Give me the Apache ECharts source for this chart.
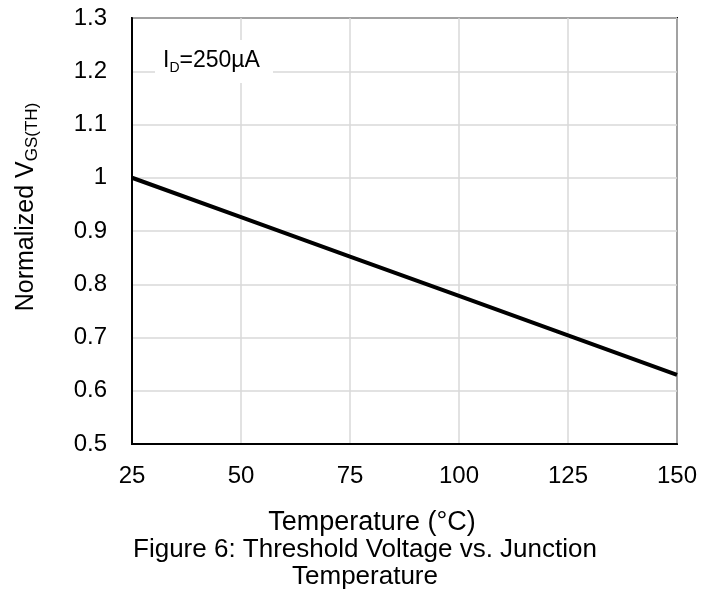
<!DOCTYPE html>
<html>
<head>
<meta charset="utf-8">
<script src="https://cdn.jsdelivr.net/npm/echarts@6/dist/echarts.min.js"></script>
<style>
  html, body { margin: 0; padding: 0; background: #fff; }
  #chart { width: 716px; height: 590px; }
</style>
</head>
<body>
<div id="chart"></div>
<script>
// Normalized gate threshold voltage against junction temperature
const temperatures = [25, 50, 75, 100, 125, 150];
const normalizedVgs = [1.0, 0.926, 0.852, 0.778, 0.704, 0.63];
const xTicks = [25, 50, 75, 100, 125, 150];
const yTicks = [0.5, 0.6, 0.7, 0.8, 0.9, 1.0, 1.1, 1.2, 1.3];

const FONT = '"Liberation Sans", Arial, sans-serif';

const chart = echarts.init(document.getElementById('chart'), null, { renderer: 'canvas' });

const option = {
  backgroundColor: '#ffffff',
  animation: false,
  textStyle: { fontFamily: FONT, color: '#000' },
  grid: {
    left: 132, top: 18, right: 39, bottom: 146,
    show: true, borderColor: '#000', borderWidth: 2, backgroundColor: 'transparent'
  },
  xAxis: {
    type: 'value',
    min: xTicks[0], max: xTicks[xTicks.length - 1], interval: 25,
    axisLine: { show: true, lineStyle: { color: '#000', width: 2 } },
    axisTick: { show: false },
    axisLabel: { color: '#000', fontSize: 24, fontFamily: FONT, margin: 20 },
    splitLine: { show: true, lineStyle: { color: '#d9d9d9', width: 1.5 } }
  },
  yAxis: {
    type: 'value',
    min: yTicks[0], max: yTicks[yTicks.length - 1], interval: 0.1,
    axisLine: { show: true, lineStyle: { color: '#000', width: 2 } },
    axisTick: { show: false },
    axisLabel: {
      color: '#000', fontSize: 24, fontFamily: FONT, margin: 25,
      formatter: v => String(parseFloat(v.toFixed(1)))
    },
    splitLine: { show: true, lineStyle: { color: '#d9d9d9', width: 1.5 } }
  },
  series: [{
    type: 'line',
    data: temperatures.map((t, i) => [t, normalizedVgs[i]]),
    showSymbol: false,
    lineStyle: { color: '#000', width: 4 },
    z: 5
  }],
  graphic: [
    {
      type: 'rect',
      shape: { x: 155, y: 40, width: 118, height: 43 },
      style: { fill: '#fff' },
      z: 10
    },
    {
      type: 'text',
      x: 163, y: 61,
      z: 11,
      style: {
        text: '{a|I}{b|D}{a|=250µA}',
        verticalAlign: 'middle',
        rich: {
          a: { fontSize: 23, fontFamily: FONT, fill: '#000', lineHeight: 28 },
          b: { fontSize: 14, fontFamily: FONT, fill: '#000', lineHeight: 28, verticalAlign: 'bottom', padding: [9, 0, 0, 0] }
        }
      }
    },
    {
      type: 'text',
      x: 26, y: 207,
      rotation: Math.PI / 2,
      style: {
        text: '{a|Normalized V}{b|GS(TH)}',
        align: 'center',
        verticalAlign: 'middle',
        rich: {
          a: { fontSize: 25, fontFamily: FONT, fill: '#000', lineHeight: 30 },
          b: { fontSize: 17, fontFamily: FONT, fill: '#000', lineHeight: 30, verticalAlign: 'bottom', padding: [10, 0, 0, 0] }
        }
      }
    },
    {
      type: 'text',
      x: 372, y: 523,
      style: {
        text: 'Temperature (°C)',
        align: 'center',
        verticalAlign: 'middle',
        fontSize: 27,
        fontFamily: FONT,
        fill: '#000'
      }
    },
    {
      type: 'text',
      x: 365, y: 563,
      style: {
        text: 'Figure 6: Threshold Voltage vs. Junction\nTemperature',
        align: 'center',
        verticalAlign: 'middle',
        lineHeight: 27,
        fontSize: 26,
        fontFamily: FONT,
        fill: '#000'
      }
    }
  ]
};

chart.setOption(option);
</script>
</body>
</html>
